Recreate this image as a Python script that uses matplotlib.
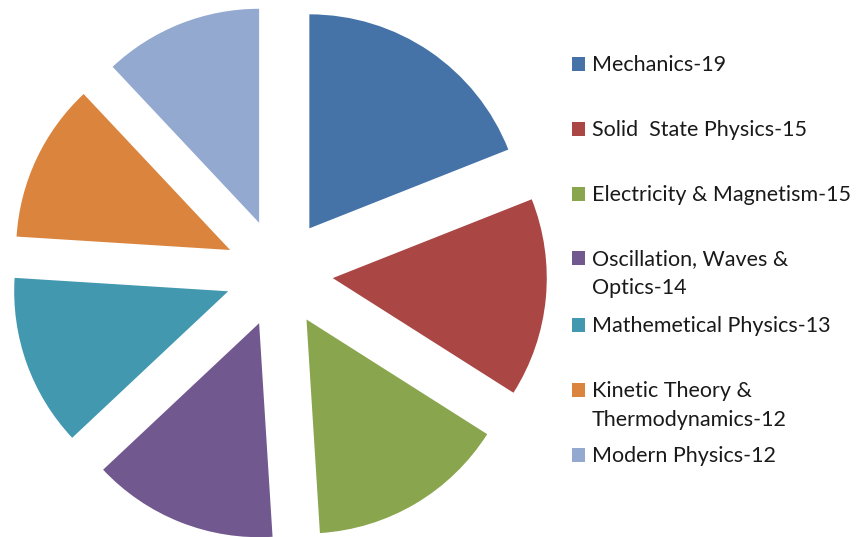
import matplotlib
matplotlib.use('Agg')
import matplotlib.pyplot as plt
from matplotlib.patches import Rectangle

# subjects and number of questions
subjects = ['Mechanics', 'Solid  State Physics', 'Electricity & Magnetism',
            'Oscillation, Waves &\nOptics', 'Mathemetical Physics',
            'Kinetic Theory &\nThermodynamics', 'Modern Physics']
counts = [19, 15, 15, 14, 13, 12, 12]
colors = ['#4572A7', '#AA4643', '#89A54E', '#71588F', '#4198AF', '#DB843D', '#93A9CF']

W, H = 858, 537
fig = plt.figure(figsize=(W / 100, H / 100), dpi=100)

# pie axes: 1 data unit = pie radius (214 px), centre at (279, 273) px from top-left
R = 214.0
cx, cy = 279.0, 273.0
ax = fig.add_axes([0, 0, 1, 1])
ax.pie(counts, colors=colors, startangle=90, counterclock=False,
       explode=[54 / R] * len(counts), wedgeprops=dict(linewidth=0))
ax.set_xlim(-cx / R, (W - cx) / R)
ax.set_ylim(-(H - cy) / R, cy / R)
ax.set_aspect('equal')
ax.axis('off')

# legend drawn in pixel coords
lg = fig.add_axes([0, 0, 1, 1])
lg.set_xlim(0, W)
lg.set_ylim(H, 0)
lg.axis('off')

baselines = [71, 136, 201, 265, 332, 397, 462]
line_h = 29.5
for name, n, col, yb in zip(subjects, counts, colors, baselines):
    lg.add_patch(Rectangle((572, yb - 14), 13, 14, facecolor=col, edgecolor='none'))
    lines = (name + '-' + str(n)).split('\n')
    for k, ln in enumerate(lines):
        lg.text(592, yb + k * line_h, ln, fontsize=15.5, family='Lato',
                color='#1a1a1a', va='baseline', ha='left')

fig.savefig('out.png', dpi=100)
